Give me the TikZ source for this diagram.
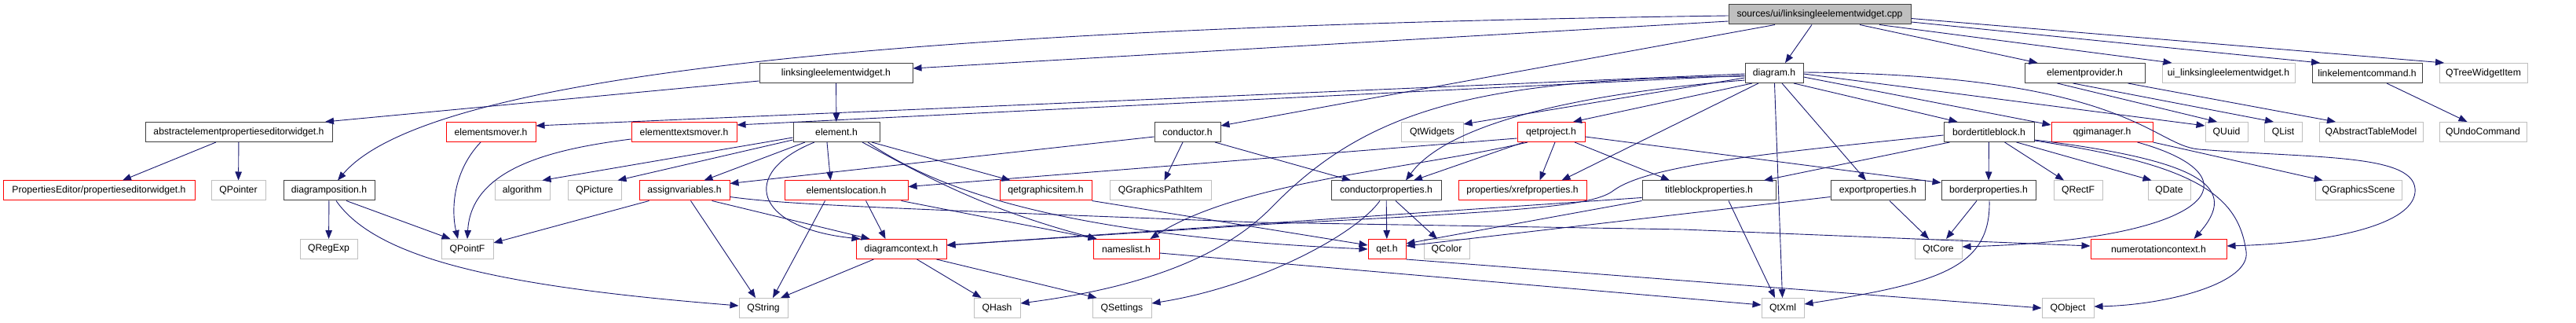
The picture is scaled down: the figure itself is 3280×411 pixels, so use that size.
\documentclass[tikz,border=0pt]{standalone}
\usepackage{fontspec}
\setmainfont{Liberation Sans}
\usetikzlibrary{arrows.meta}
\definecolor{edgeblue}{HTML}{191970}
\definecolor{hdrgray}{HTML}{404040}
\definecolor{sysgray}{HTML}{BFBFBF}
\definecolor{incred}{HTML}{FF0000}
\begin{document}
\begin{tikzpicture}[x=1pt,y=-1pt,>={Triangle[length=11pt,width=8.5pt]},
  box/.style={rectangle,inner sep=0pt,minimum height=25pt,line width=1pt,fill=white,
    font=\fontsize{12.2}{14}\selectfont},
  hdrbox/.style={box,draw=hdrgray},
  redbox/.style={box,draw=incred},
  sysbox/.style={box,draw=sysgray},
  curbox/.style={box,draw=hdrgray,fill=sysgray},
  dep/.style={->,edgeblue,line width=0.9pt}]
  \useasboundingbox (0,0) rectangle (3280,411);
  \node[curbox,minimum width=232pt] (cpp) at (2317,18.5) {sources/ui/linksingleelementwidget.cpp};
  \node[hdrbox,minimum width=195pt] (lsewh) at (1064.5,93) {linksingleelementwidget.h};
  \node[hdrbox,minimum width=74pt] (diagramh) at (2259,93) {diagram.h};
  \node[hdrbox,minimum width=153pt] (elprovh) at (2654.5,93) {elementprovider.h};
  \node[sysbox,minimum width=169pt] (uilsew) at (2837.5,93) {ui\_linksingleelementwidget.h};
  \node[hdrbox,minimum width=140pt] (linkcmd) at (3014,93) {linkelementcommand.h};
  \node[sysbox,minimum width=112pt] (qtreewi) at (3162,93) {QTreeWidgetItem};
  \node[hdrbox,minimum width=238pt] (abstracth) at (304,168) {abstractelementpropertieseditorwidget.h};
  \node[redbox,minimum width=114pt] (emoverh) at (625,168) {elementsmover.h};
  \node[redbox,minimum width=134pt] (etmoverh) at (871,168) {elementtextsmover.h};
  \node[hdrbox,minimum width=110pt] (elementh) at (1065,168) {element.h};
  \node[hdrbox,minimum width=84pt] (conductorh) at (1512,168) {conductor.h};
  \node[sysbox,minimum width=79pt] (qtwidgets) at (1823.5,168) {QtWidgets};
  \node[redbox,minimum width=86pt] (qetprojh) at (1975,168) {qetproject.h};
  \node[hdrbox,minimum width=115pt] (btbh) at (2532.5,168) {bordertitleblock.h};
  \node[redbox,minimum width=129pt] (qgimh) at (2676.5,168) {qgimanager.h};
  \node[sysbox,minimum width=54pt] (quuid) at (2835,168) {QUuid};
  \node[sysbox,minimum width=48pt] (qlist) at (2907,168) {QList};
  \node[sysbox,minimum width=132pt] (qatm) at (3019,168) {QAbstractTableModel};
  \node[sysbox,minimum width=111pt] (qundo) at (3161.5,168) {QUndoCommand};
  \node[redbox,minimum width=244pt] (propedw) at (126,242.5) {PropertiesEditor/propertieseditorwidget.h};
  \node[sysbox,minimum width=69pt] (qpointer) at (303.5,242.5) {QPointer};
  \node[hdrbox,minimum width=116pt] (diagposh) at (419,242.5) {diagramposition.h};
  \node[sysbox,minimum width=70pt] (algorithm) at (665,242.5) {algorithm};
  \node[sysbox,minimum width=68pt] (qpicture) at (757,242.5) {QPicture};
  \node[redbox,minimum width=115pt] (assignh) at (871.5,242.5) {assignvariables.h};
  \node[redbox,minimum width=157pt] (elocationh) at (1077.5,242.5) {elementslocation.h};
  \node[redbox,minimum width=117pt] (qgitemh) at (1331.5,242.5) {qetgraphicsitem.h};
  \node[sysbox,minimum width=129pt] (qgpathitem) at (1477.5,242.5) {QGraphicsPathItem};
  \node[hdrbox,minimum width=140pt] (condpropsh) at (1765,242.5) {conductorproperties.h};
  \node[redbox,minimum width=163pt] (xrefh) at (1938.5,242.5) {properties/xrefproperties.h};
  \node[hdrbox,minimum width=170pt] (tbpropsh) at (2176,242.5) {titleblockproperties.h};
  \node[hdrbox,minimum width=120pt] (exportph) at (2391,242.5) {exportproperties.h};
  \node[hdrbox,minimum width=120pt] (borderph) at (2532,242.5) {borderproperties.h};
  \node[sysbox,minimum width=62pt] (qrectf) at (2646,242.5) {QRectF};
  \node[sysbox,minimum width=54pt] (qdate) at (2762,242.5) {QDate};
  \node[sysbox,minimum width=110pt] (qgscene) at (3003,242.5) {QGraphicsScene};
  \node[sysbox,minimum width=73pt] (qregexp) at (418.5,317) {QRegExp};
  \node[sysbox,minimum width=66pt] (qpointf) at (595,317) {QPointF};
  \node[redbox,minimum width=115pt] (dctxh) at (1147.5,317) {diagramcontext.h};
  \node[redbox,minimum width=84pt] (nameslisth) at (1434,317) {nameslist.h};
  \node[redbox,minimum width=48pt] (qeth) at (1766,317) {qet.h};
  \node[sysbox,minimum width=58pt] (qcolor) at (1842,317) {QColor};
  \node[sysbox,minimum width=60pt] (qtcore) at (2468,317) {QtCore};
  \node[redbox,minimum width=173pt] (numctxh) at (2748.5,317) {numerotationcontext.h};
  \node[sysbox,minimum width=62pt] (qstring) at (972,392) {QString};
  \node[sysbox,minimum width=59pt] (qhash) at (1269.5,392) {QHash};
  \node[sysbox,minimum width=75pt] (qsettings) at (1428.5,392) {QSettings};
  \node[sysbox,minimum width=54pt] (qtxml) at (2270,392) {QtXml};
  \node[sysbox,minimum width=66pt] (qobject) at (2633,392) {QObject};

  \draw[dep] ([yshift=-8.5pt]cpp.west) -- ([yshift=6pt]lsewh.east);
  \draw[dep] ([yshift=-1.5pt]cpp.west) .. controls (1100,35) and (540,100) .. ([xshift=11pt]diagposh.north);
  \draw[dep] ([xshift=-57pt]cpp.south) -- ([yshift=8pt]conductorh.east);
  \draw[dep] ([xshift=-10pt]cpp.south) -- ([xshift=14pt]diagramh.north);
  \draw[dep] ([xshift=51pt]cpp.south) -- ([xshift=-60pt]elprovh.north);
  \draw[dep] ([xshift=76pt]cpp.south) -- ([xshift=-72pt]uilsew.north);
  \draw[dep] ([yshift=-9.5pt]cpp.east) -- ([xshift=-60pt]linkcmd.north);
  \draw[dep] ([yshift=-5pt]cpp.east) -- ([xshift=-50pt]qtreewi.north);
  \draw[dep] ([yshift=-10pt]lsewh.west) -- ([xshift=110pt]abstracth.north);
  \draw[dep] (lsewh) -- (elementh);
  \draw[dep] ([xshift=-29pt]abstracth.south) -- ([xshift=30pt]propedw.north);
  \draw[dep] (abstracth) -- (qpointer);
  \draw[dep] (diagposh) -- (qregexp);
  \draw[dep] ([xshift=22pt]diagposh.south) -- ([xshift=12pt]qpointf.north west);
  \draw[dep] ([xshift=9pt]diagposh.south) .. controls (480,330) and (640,365) .. ([yshift=3pt]qstring.west);
  \draw[dep] ([xshift=-13pt]emoverh.south) .. controls (575,220) and (575,270) .. ([xshift=-12pt]qpointf.north);
  \draw[dep] ([yshift=-9pt]etmoverh.west) .. controls (700,190) and (600,215) .. (qpointf.north);
  \draw[dep] ([yshift=-7pt]elementh.west) -- ([xshift=-10pt]algorithm.north east);
  \draw[dep] ([yshift=-10pt]elementh.west) -- ([xshift=-5pt]qpicture.north east);
  \draw[dep] ([xshift=-40pt]elementh.south) -- ([xshift=25pt]assignh.north);
  \draw[dep] ([xshift=-12pt]elementh.south) -- ([xshift=-20pt]elocationh.north);
  \draw[dep] ([xshift=-28pt]elementh.south) .. controls (940,220) and (960,290) .. ([xshift=-52pt]dctxh.north);
  \draw[dep] ([xshift=45pt]elementh.south) -- ([xshift=-45pt]qgitemh.north);
  \draw[dep] ([xshift=33pt]elementh.south) .. controls (1180,225) and (1250,265) .. ([xshift=5pt]nameslisth.north west);
  \draw[dep] ([xshift=40pt]elementh.south) .. controls (1190,240) and (1350,300) .. (qeth.west);
  \draw[dep] ([xshift=-45pt]assignh.south) -- ([yshift=8pt]qpointf.east);
  \draw[dep] ([xshift=8pt]assignh.south) -- ([xshift=-10pt]qstring.north);
  \draw[dep] ([xshift=35pt]assignh.south) -- ([xshift=-40pt]dctxh.north);
  \draw[dep] ([yshift=-8pt]assignh.east) .. controls (1000,260) and (1100,264) .. (1603,283) -- (2143,292) -- ([yshift=4pt]numctxh.west);
  \draw[dep] ([xshift=25pt]elocationh.south) -- ([xshift=-20pt]dctxh.north);
  \draw[dep] ([xshift=-27pt]elocationh.south) -- ([xshift=12pt]qstring.north);
  \draw[dep] ([xshift=70pt]elocationh.south) -- ([xshift=5pt]nameslisth.north west);
  \draw[dep] (qgitemh.south east) -- ([yshift=5pt]qeth.west);
  \draw[dep] ([xshift=-6pt]conductorh.south) -- ([xshift=5pt]qgpathitem.north);
  \draw[dep] ([xshift=35pt]conductorh.south) -- ([xshift=-45pt]condpropsh.north);
  \draw[dep] ([yshift=-6pt]conductorh.west) -- ([yshift=9pt]assignh.east);
  \draw[dep] (condpropsh) -- (qeth);
  \draw[dep] ([xshift=12pt]condpropsh.south) -- ([xshift=-12pt]qcolor.north);
  \draw[dep] ([xshift=-8pt]condpropsh.south) .. controls (1725,300) and (1600,365) .. ([yshift=6pt]qsettings.east);
  \draw[dep] ([yshift=-8pt]qetprojh.west) -- ([yshift=5pt]elocationh.east);
  \draw[dep] ([xshift=-35pt]qetprojh.south) -- ([xshift=35pt]condpropsh.north);
  \draw[dep] ([xshift=-30pt]qetprojh.south) .. controls (1800,215) and (1580,230) .. ([xshift=-12pt]nameslisth.north east);
  \draw[dep] ([xshift=5pt]qetprojh.south) -- ([xshift=22pt]xrefh.north);
  \draw[dep] ([xshift=30pt]qetprojh.south) -- ([xshift=-50pt]tbpropsh.north);
  \draw[dep] ([yshift=-6pt]qetprojh.east) -- ([yshift=10pt]borderph.west);
  \draw[dep] ([yshift=-1pt]diagramh.west) -- ([yshift=8pt]emoverh.east);
  \draw[dep] ([yshift=-3pt]diagramh.west) -- ([yshift=9pt]etmoverh.east);
  \draw[dep] ([yshift=-6pt]diagramh.west) -- ([yshift=10pt]qtwidgets.east);
  \draw[dep] ([xshift=-28pt]diagramh.south) -- ([xshift=28pt]qetprojh.north);
  \draw[dep] ([yshift=-9pt]diagramh.west) .. controls (1940,125) and (1830,175) .. ([xshift=25pt]condpropsh.north);
  \draw[dep] ([xshift=-20pt]diagramh.south) -- ([xshift=50pt]xrefh.north);
  \draw[dep] ([yshift=-4pt]diagramh.west) .. controls (1880,100) and (1740,140) .. (1620,263)
    .. controls (1560,324.5) and (1460,365) .. ([yshift=6pt]qhash.east);
  \draw[dep] ([xshift=25pt]diagramh.south) -- ([xshift=-40pt]btbh.north);
  \draw[dep] ([yshift=-5pt]diagramh.east) -- ([yshift=9pt]qgimh.west);
  \draw[dep] ([xshift=10pt]diagramh.south) -- ([xshift=-15pt]exportph.north);
  \draw[dep] (diagramh) -- (qtxml);
  \draw[dep] ([yshift=-1pt]diagramh.east) -- ([yshift=8pt]quuid.west);
  \draw[dep] ([yshift=1pt]diagramh.east) .. controls (2710,95) and (2740,185) .. (2800,190)
    .. controls (2950,202) and (3080,195) .. (3075,245)
    .. controls (3070,290) and (2950,310) .. ([yshift=4pt]numctxh.east);
  \draw[dep] ([yshift=-4pt]btbh.west) .. controls (2250,195) and (2100,210) .. (2055,242)
    .. controls (2030,262) and (1950,268) .. (1620,285) -- ([yshift=5pt]dctxh.east);
  \draw[dep] ([yshift=-9pt]tbpropsh.west) -- ([yshift=5pt]dctxh.east);
  \draw[dep] (tbpropsh.south west) -- ([yshift=7pt]qeth.east);
  \draw[dep] ([yshift=-8pt]exportph.west) -- ([yshift=4pt]qeth.east);
  \draw[dep] ([xshift=-50pt]btbh.south) -- ([xshift=70pt]tbpropsh.north);
  \draw[dep] (btbh) -- (borderph);
  \draw[dep] ([xshift=20pt]btbh.south) -- ([xshift=-18pt]qrectf.north);
  \draw[dep] ([xshift=35pt]btbh.south) -- ([xshift=5pt]qdate.north west);
  \draw[dep] ([yshift=-10pt]btbh.east) .. controls (2810,205) and (2850,240) .. ([xshift=45pt]numctxh.north);
  \draw[dep] ([xshift=45pt]qgimh.south) .. controls (2880,225) and (2820,305) .. ([yshift=3pt]qtcore.east);
  \draw[dep] ([yshift=-11pt]btbh.east) .. controls (2800,210) and (2850,250) .. (2860,320)
    .. controls (2866,360) and (2760,388) .. ([yshift=2pt]qobject.east);
  \draw[dep] (qgimh.south east) -- ([xshift=10pt]qgscene.north west);
  \draw[dep] ([xshift=15pt]exportph.south) -- ([xshift=-12pt]qtcore.north);
  \draw[dep] ([xshift=-15pt]borderph.south) -- ([xshift=10pt]qtcore.north);
  \draw[dep] ([xshift=1pt]borderph.south) .. controls (2535,340) and (2470,360) .. ([yshift=5pt]qtxml.east);
  \draw[dep] ([xshift=25pt]tbpropsh.south) -- ([xshift=-10pt]qtxml.north);
  \draw[dep] ([yshift=-5pt]nameslisth.east) -- ([yshift=4pt]qtxml.west);
  \draw[dep] (qeth.south east) -- (qobject.west);
  \draw[dep] ([xshift=-35pt]elprovh.south) -- ([xshift=-12pt]quuid.north);
  \draw[dep] ([xshift=-15pt]elprovh.south) -- ([xshift=-12pt]qlist.north);
  \draw[dep] ([xshift=55pt]elprovh.south) -- ([xshift=-45pt]qatm.north);
  \draw[dep] ([xshift=25pt]linkcmd.south) -- ([xshift=-20pt]qundo.north);
  \draw[dep] ([xshift=-35pt]dctxh.south) -- ([xshift=22pt]qstring.north);
  \draw[dep] ([xshift=20pt]dctxh.south) -- ([xshift=-20pt]qhash.north);
  \draw[dep] ([xshift=45pt]dctxh.south) -- ([xshift=-32pt]qsettings.north);
\end{tikzpicture}
\end{document}
